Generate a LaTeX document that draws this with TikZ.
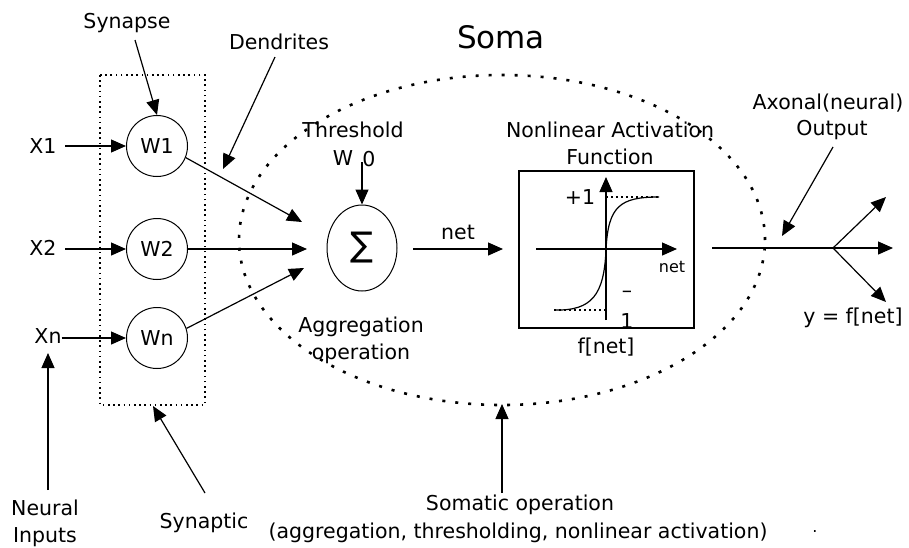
\documentclass[tikz,border=0pt]{standalone}
\usepackage{fontspec}
\setmainfont{DejaVu Sans}
\usetikzlibrary{arrows.meta,shapes.geometric}
\tikzset{
  lbl/.style={font=\fontsize{20.5}{24}\selectfont, inner sep=0pt},
  small/.style={font=\fontsize{16}{19}\selectfont, inner sep=0pt},
  arr/.style={line width=1.2pt, -{Triangle[length=15pt,width=13pt]}},
  ln/.style={line width=1.2pt},
  wcirc/.style={circle, draw, line width=1pt, minimum size=61pt, inner sep=0pt, font=\fontsize{20.5}{24}\selectfont},
  somadot/.style={line width=2.6pt, dash pattern=on 3pt off 10pt},
  boxdot/.style={line width=1.5pt, dash pattern=on 1.6pt off 3.6pt},
  fdot/.style={line width=1.2pt, dash pattern=on 2pt off 3pt},
}
\begin{document}
\begin{tikzpicture}[x=1pt,y=1pt]
\useasboundingbox (0,0) rectangle (909,-547);
% soma ellipse
\draw[somadot] (502,-240) ellipse [x radius=263, y radius=165];
% synaptic box
\draw[boxdot] (100,-75) rectangle (205,-405);
% titles
\node[font=\fontsize{31}{34}\selectfont, inner sep=0pt] (soma) at (501,-37) {Soma};
\node[lbl] (synapse) at (127,-23) {Synapse};
\node[lbl] (dendrites) at (279,-42) {Dendrites};
% weights
\node[wcirc] (w1) at (157,-146) {W1};
\node[wcirc] (w2) at (157,-249) {W2};
\node[wcirc] (wn) at (157,-338) {Wn};
% inputs
\node[lbl] (x1) at (43,-146) {X1};
\node[lbl] (x2) at (43,-248) {X2};
\node[lbl] (xn) at (48,-336) {Xn};
\draw[arr] (x1.east -| 65,0) -- (w1.west);
\draw[arr] (65,-249) -- (w2.west);
\draw[arr] (wn.west -| xn.east) -- (wn.west);
% neural inputs
\node[lbl] (neural) at (45,-508) {Neural};
\node[lbl] (inputs) at (45,-537) {Inputs};
\coordinate (nistart) at (48,-490);
\draw[arr] (nistart) -- (48,-353);
% synapse arrow
\coordinate (synS) at (135,-40);
\draw[arr] (synS) -- (w1.north);
% dendrites arrow
\coordinate (denS) at (275,-57);
\coordinate (denT) at (223,-169);
\draw[arr] (denS) -- (denT);
% synaptic label
\node[lbl] (synaptic) at (204,-523) {Synaptic};
\coordinate (synpS) at (205,-493);
\coordinate (synpT) at (153,-406);
\draw[arr] (synpS) -- (synpT);
% summation
\node[ellipse, draw, line width=1pt, minimum width=70pt, minimum height=86pt, inner sep=0pt, font=\fontsize{34}{36}\selectfont] (sum) at (362,-248) {∑};
\coordinate (s1) at (302,-222);
\coordinate (s2) at (307,-249);
\coordinate (s3) at (304,-268);
\draw[arr] (w1.-22) -- (s1);
\draw[arr] (w2.east) -- (s2);
\draw[arr] (wn.18) -- (s3);
% threshold
\node[lbl] (thr) at (353,-130) {Threshold};
\node[lbl] (w0) at (343,-158) {W};
\node[lbl] (zero) at (369,-159) {0};
\coordinate (thS) at (362,-162);
\draw[arr] (thS) -- (sum.north);
% aggregation labels
\node[lbl] (agg1) at (361,-327) {Aggregation};
\node[lbl] (agg2) at (361,-354) {operation};
% net arrow
\coordinate (netS) at (413,-249);
\coordinate (netT) at (503,-249);
\draw[arr] (netS) -- (netT);
\node[lbl] (netlbl) at (458,-232) {net};
% activation box
\node[lbl] (nl1) at (610,-130) {Nonlinear Activation};
\node[lbl] (nl2) at (610,-157) {Function};
\node[draw, line width=1.2pt, minimum width=175pt, minimum height=157pt, inner sep=0pt] (box) at (606.5,-249.5) {};
\coordinate (vy0) at (606,-320);
\coordinate (vy1) at (606,-177);
\coordinate (hx0) at (536,-249);
\coordinate (hx1) at (677,-249);
\draw[arr] (vy0) -- (vy1);
\draw[arr] (hx0) -- (hx1);
\draw[fdot] (554,-310) -- (606,-310);
\draw[fdot] (606,-197) -- (659,-197);
\draw[ln] (554,-310) .. controls (592,-311) and (604,-295) .. (606,-250) .. controls (608,-206) and (620,-197) .. (659,-197);
\node[lbl] (p1) at (580,-197) {+1};
\node[small] (netax) at (672,-267) {net};
\node[lbl] (m1) at (627,-294) {–};
\node[lbl] (one) at (627,-321) {1};
\node[lbl] (fnet) at (606,-347) {f[net]};
% output
\coordinate (oS) at (712,-248);
\coordinate (oB) at (833,-248);
\coordinate (oT1) at (893,-248);
\coordinate (oT2) at (886,-197);
\coordinate (oT3) at (886,-302);
\draw[ln] (oS) -- (oB);
\draw[arr] (oB) -- (oT1);
\draw[arr] (oB) -- (oT2);
\draw[arr] (oB) -- (oT3);
\node[lbl] (ax1) at (828,-103) {Axonal(neural)};
\node[lbl] (ax2) at (832,-130) {Output};
\coordinate (axS) at (833,-147);
\coordinate (axT) at (782,-236);
\draw[arr] (axS) -- (axT);
\node[lbl] (ylbl) at (853,-318) {y = f[net]};
% somatic operation
\node[lbl] (som1) at (520,-505) {Somatic operation};
\node[lbl] (som2) at (518,-533) {(aggregation, thresholding, nonlinear activation)};
\coordinate (soS) at (502,-493);
\coordinate (soT) at (502,-404);
\draw[arr] (soS) -- (soT);
\node[small] (dot) at (815,-531) {.};
\end{tikzpicture}
\end{document}
